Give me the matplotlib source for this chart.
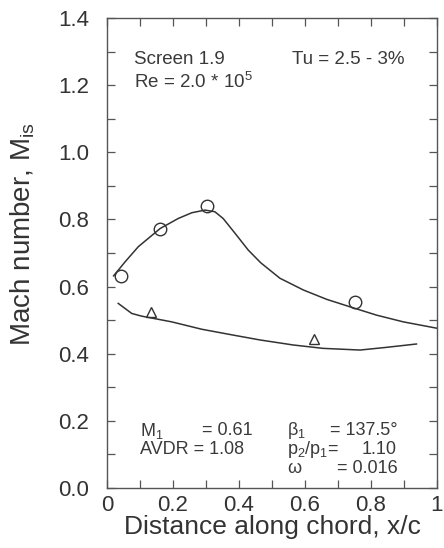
import matplotlib
matplotlib.use("Agg")
import matplotlib.pyplot as plt
from matplotlib.ticker import MultipleLocator

plt.rcParams["font.family"] = ["Liberation Sans", "DejaVu Sans"]
plt.rcParams["mathtext.fontset"] = "custom"
plt.rcParams["mathtext.rm"] = "Liberation Sans"
plt.rcParams["mathtext.it"] = "Liberation Sans"

INK = "#333333"

# measured points
circle_x = [0.041, 0.162, 0.304, 0.753]
circle_y = [0.632, 0.772, 0.840, 0.554]
tri_x = [0.132, 0.627]
tri_y = [0.523, 0.445]

# calculated distributions
upper_x = [0.020, 0.055, 0.095, 0.161, 0.216, 0.257, 0.297, 0.327, 0.352,
           0.388, 0.428, 0.466, 0.495, 0.524, 0.595, 0.666, 0.736, 0.817,
           0.898, 1.000]
upper_y = [0.632, 0.674, 0.719, 0.773, 0.803, 0.820, 0.828, 0.823, 0.803,
           0.759, 0.709, 0.671, 0.648, 0.625, 0.590, 0.562, 0.540, 0.515,
           0.495, 0.476]
lower_x = [0.034, 0.075, 0.105, 0.196, 0.287, 0.380, 0.464, 0.565, 0.655,
           0.767, 0.847, 0.938]
lower_y = [0.550, 0.520, 0.512, 0.495, 0.473, 0.456, 0.441, 0.426, 0.416,
           0.411, 0.419, 0.429]

x_ticks = [0, 0.2, 0.4, 0.6, 0.8, 1.0]
x_labels = ["0", "0.2", "0.4", "0.6", "0.8", "1"]
y_ticks = [0.0, 0.2, 0.4, 0.6, 0.8, 1.0, 1.2, 1.4]
y_labels = ["0.0", "0.2", "0.4", "0.6", "0.8", "1.0", "1.2", "1.4"]

fig = plt.figure(figsize=(4.44, 5.48), dpi=100)
ax = fig.add_axes([0.241, 0.1095, 0.743, 0.8575])

ax.plot(upper_x, upper_y, color=INK, lw=1.1)
ax.plot(lower_x, lower_y, color=INK, lw=1.1)
ax.plot(circle_x, circle_y, "o", mfc="none", mec=INK, ms=9, mew=1.0)
ax.plot(tri_x, tri_y, "^", mfc="none", mec=INK, ms=6.5, mew=1.0)

ax.set_xlim(0, 1)
ax.set_ylim(0, 1.4)
ax.set_xticks(x_ticks)
ax.set_xticklabels(x_labels)
ax.set_yticks(y_ticks)
ax.set_yticklabels(y_labels)
ax.xaxis.set_minor_locator(MultipleLocator(0.1))
ax.yaxis.set_minor_locator(MultipleLocator(0.1))
ax.tick_params(which="both", direction="in", top=True, right=True,
               length=6, width=0.9, color="#555555")
ax.tick_params(which="major", labelsize=16, labelcolor=INK)
ax.tick_params(axis="x", which="major", pad=5)
ax.tick_params(axis="y", which="major", pad=13)
for s in ax.spines.values():
    s.set_color("#555555")
    s.set_linewidth(1.0)

ax.set_xlabel("Distance along chord, x/c", fontsize=19, color=INK,
              va="center", ha="center")
ax.xaxis.set_label_coords(0.5, -0.083)
ax.set_ylabel("Mach number, M$_{\\rm is}$", fontsize=20, color=INK,
              va="center", ha="center")
ax.yaxis.set_label_coords(-0.254, 0.54)

tk = dict(fontsize=13.5, color="#3a3a3a", transform=ax.transAxes, va="center")
ax.text(0.082, 0.911, "Screen 1.9", **tk)
ax.text(0.082, 0.864, "Re = 2.0 * 10$^5$", **tk)
ax.text(0.903, 0.911, "Tu = 2.5 - 3%", ha="right", **tk)

bk = dict(tk, fontsize=13)
ax.text(0.100, 0.122, "M$_1$", **bk)
ax.text(0.442, 0.122, "= 0.61", ha="right", **bk)
ax.text(0.100, 0.081, "AVDR = 1.08", **bk)
ax.text(0.545, 0.122, "\u03b2$_1$", **bk)
ax.text(0.882, 0.122, "= 137.5\u00b0", ha="right", **bk)
ax.text(0.545, 0.081, "p$_2$/p$_1$=", **bk)
ax.text(0.879, 0.081, "1.10", ha="right", **bk)
ax.text(0.545, 0.041, "\u03c9", **bk)
ax.text(0.882, 0.041, "= 0.016", ha="right", **bk)

fig.savefig("out.png", dpi=100)
